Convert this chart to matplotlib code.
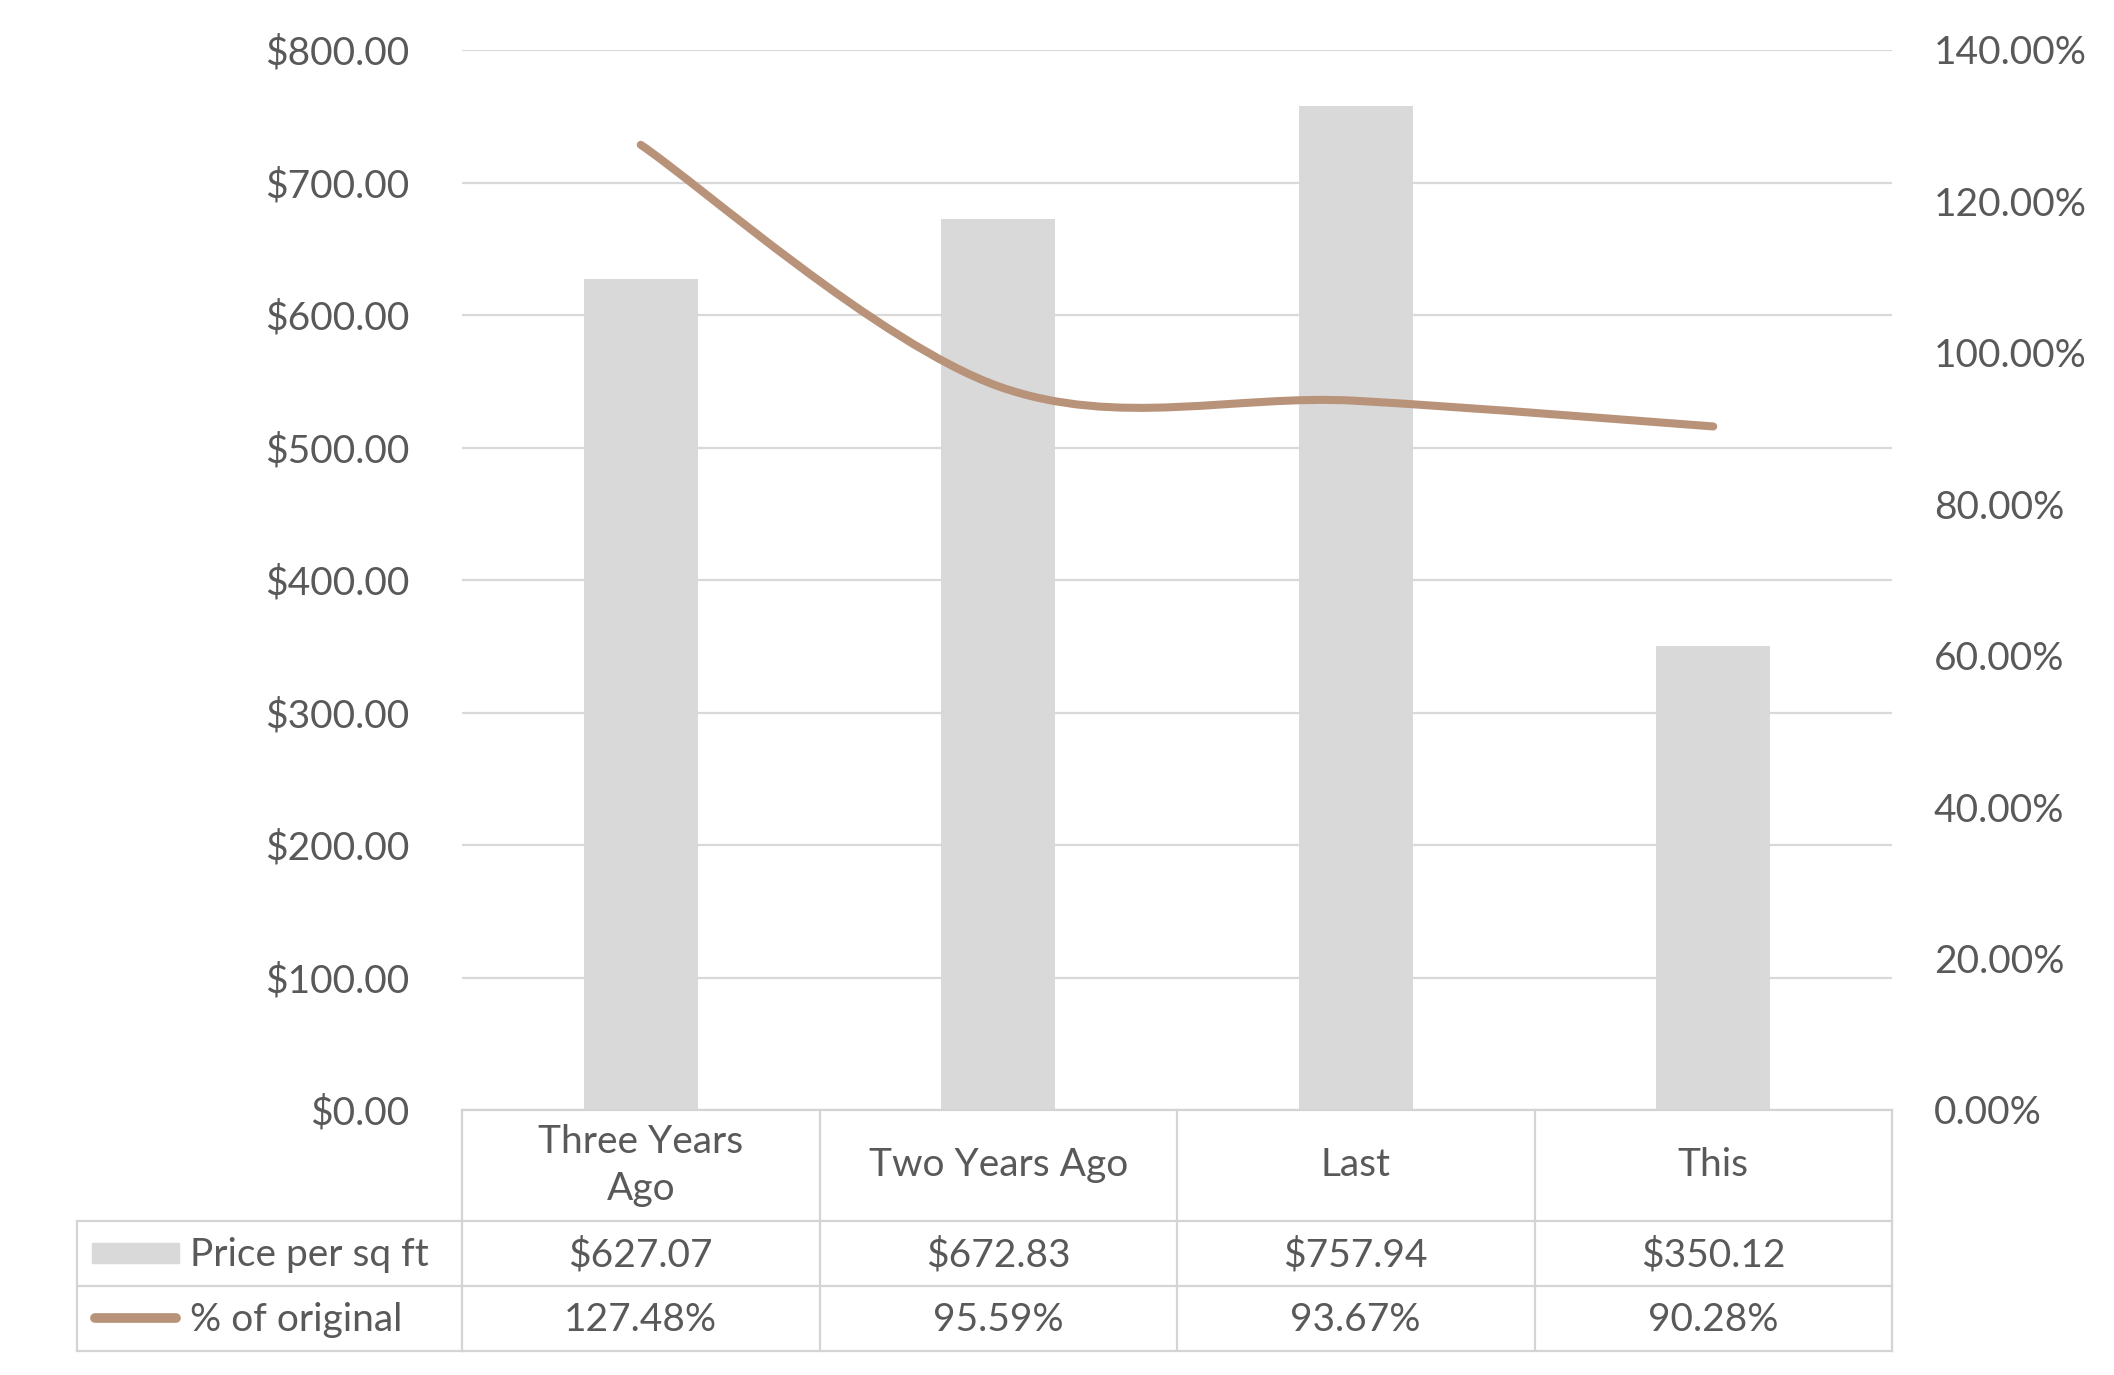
import matplotlib.pyplot as plt
import matplotlib.transforms as mtransforms
from matplotlib.path import Path
from matplotlib.patches import PathPatch, Rectangle
from matplotlib.lines import Line2D
from matplotlib.ticker import FuncFormatter
import numpy as np

# chart data
categories = ['Three Years\nAgo', 'Two Years Ago', 'Last', 'This']
price_per_sqft = [627.07, 672.83, 757.94, 350.12]
pct_of_original = [127.48, 95.59, 93.67, 90.28]
series_names = ['Price per sq ft', '% of original']

bar_color = '#D9D9D9'
line_color = '#B8937A'
text_color = '#595959'
grid_color = '#D9D9D9'
fsize = 28

plt.rcParams['font.family'] = ['Lato', 'DejaVu Sans']

W, H = 2114, 1375
fig = plt.figure(figsize=(W / 100, H / 100), dpi=100)
ax = fig.add_axes([462 / W, 1 - 1110 / H, 1430 / W, 1060 / H])

x = np.arange(len(categories))
ax.bar(x, price_per_sqft, width=0.32, color=bar_color, zorder=2)
ax.set_xlim(-0.5, 3.5)
ax.set_ylim(0, 800)
ax.set_yticks(np.arange(0, 801, 100))
ax.yaxis.set_major_formatter(FuncFormatter(lambda v, p: f'${v:,.2f}'))
ax.yaxis.grid(True, color=grid_color, lw=1.6)
ax.set_axisbelow(True)
ax.set_xticks([])
ax.tick_params(axis='y', length=0, pad=38, labelsize=fsize, labelcolor=text_color)
for s in ax.spines.values():
    s.set_visible(False)

# secondary axis for the % line
ax2 = ax.twinx()
ax2.set_ylim(0, 140)
ax2.set_yticks(np.arange(0, 141, 20))
ax2.yaxis.set_major_formatter(FuncFormatter(lambda v, p: f'{v:.2f}%'))
ax2.tick_params(axis='y', length=0, pad=30, labelsize=fsize, labelcolor=text_color)
for s in ax2.spines.values():
    s.set_visible(False)

# smoothed line (bezier through the points, like Excel)
pts = np.column_stack([x, pct_of_original]).astype(float)
n = len(pts)
verts = [pts[0]]
codes = [Path.MOVETO]
for i in range(n - 1):
    p_prev = pts[max(i - 1, 0)]
    p_next2 = pts[min(i + 2, n - 1)]
    c1 = pts[i] + (pts[i + 1] - p_prev) / 6
    c2 = pts[i + 1] - (p_next2 - pts[i]) / 6
    verts += [c1, c2, pts[i + 1]]
    codes += [Path.CURVE4] * 3
ax2.add_patch(PathPatch(Path(verts, codes), fill=False, edgecolor=line_color,
                        lw=5.8, capstyle='round', zorder=3))

# data table below the chart (pixel coords, top-down)
T = mtransforms.Affine2D().scale(1 / W, -1 / H).translate(0, 1) + fig.transFigure
TX = mtransforms.blended_transform_factory(ax.transData, T)

tbl_top, hdr_bot, row1_bot, row2_bot = 1110, 1221, 1286, 1351
tbl_left = 77
lc = '#D4D4D4'
lw = 1.6

def hline(x0, x1, y, trans):
    fig.add_artist(Line2D([x0, x1], [y, y], color=lc, lw=lw, transform=trans))

def vline(xv, y0, y1, trans):
    fig.add_artist(Line2D([xv, xv], [y0, y1], color=lc, lw=lw, transform=trans))

hline(-0.5, 3.5, tbl_top, TX)
for yy in (hdr_bot, row1_bot, row2_bot):
    fig.add_artist(Line2D([tbl_left, 462], [yy, yy], color=lc, lw=lw, transform=T))
    hline(-0.5, 3.5, yy, TX)
for b in np.arange(-0.5, 3.6, 1.0):
    vline(b, tbl_top, row2_bot, TX)
vline(tbl_left, hdr_bot, row2_bot, T)

for i, c in enumerate(categories):
    fig.text(x[i], (tbl_top + hdr_bot) / 2, c, transform=TX, ha='center', va='center',
             fontsize=fsize, color=text_color, linespacing=1.35)
    fig.text(x[i], (hdr_bot + row1_bot) / 2 + 2, f'${price_per_sqft[i]:,.2f}', transform=TX,
             ha='center', va='center', fontsize=fsize, color=text_color)
    fig.text(x[i], (row1_bot + row2_bot) / 2 + 2, f'{pct_of_original[i]:.2f}%', transform=TX,
             ha='center', va='center', fontsize=fsize, color=text_color)

# legend keys and row labels
fig.add_artist(Rectangle((92, 1243), 87, 20, color=bar_color, transform=T))
fig.add_artist(Line2D([95, 176], [1318, 1318], color=line_color, lw=7,
                      solid_capstyle='round', transform=T))
fig.text(190, (hdr_bot + row1_bot) / 2 + 2, series_names[0], transform=T, ha='left',
         va='center', fontsize=fsize, color=text_color)
fig.text(190, (row1_bot + row2_bot) / 2 + 2, series_names[1], transform=T, ha='left',
         va='center', fontsize=fsize, color=text_color)

fig.savefig('out.png', dpi=100, facecolor='white')
